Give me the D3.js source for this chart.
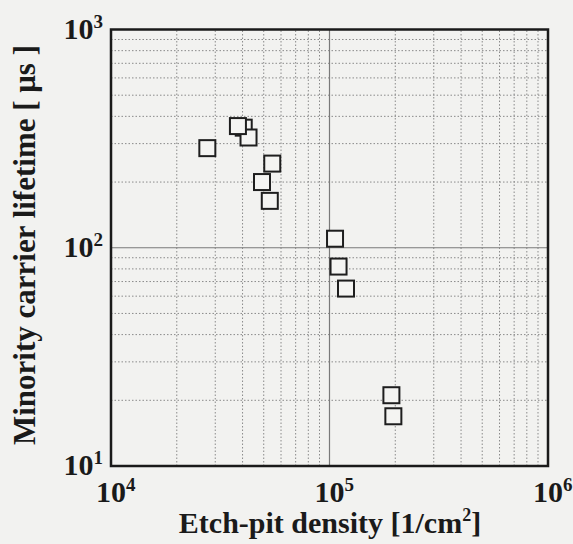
<!DOCTYPE html>
<html>
<head>
<meta charset="utf-8">
<script src="https://cdn.jsdelivr.net/npm/d3@7"></script>
<style>
  body { margin: 0; background: #f2f2f0; }
  text { font-family: "Liberation Serif", "Times New Roman", serif; font-weight: bold; fill: #1a1a1a; }
</style>
</head>
<body>
<div id="chart"></div>
<script>
// etch-pit density [1/cm2] vs minority carrier lifetime [us]
var etchPit  = [27600, 40500, 42600, 38100, 54700, 49100, 53300, 106000, 110000, 119000, 192000, 196000];
var lifetime = [286,   355,   320,   361,   243,   200,   164,   110,    82,     65,     21.1,   16.9];

var xDecades = [1e4, 1e5, 1e6];
var yDecades = [1e1, 1e2, 1e3];

var width = 573, height = 544;
var margin = { top: 29.5, right: 25, bottom: 78, left: 111 };

var svg = d3.select("#chart").append("svg")
  .attr("width", width)
  .attr("height", height);

svg.append("rect")
  .attr("width", width)
  .attr("height", height)
  .attr("fill", "#f2f2f0");

var x = d3.scaleLog()
  .domain([xDecades[0], xDecades[xDecades.length - 1]])
  .range([margin.left, width - margin.right]);

var y = d3.scaleLog()
  .domain([yDecades[0], yDecades[yDecades.length - 1]])
  .range([height - margin.bottom, margin.top]);

// minor ticks 2..9 in every decade
function minorTicks(decades) {
  var out = [];
  for (var i = 0; i < decades.length - 1; i++) {
    for (var k = 2; k <= 9; k++) out.push(decades[i] * k);
  }
  return out;
}

var grid = svg.append("g");

grid.selectAll(".vminor")
  .data(minorTicks(xDecades))
  .enter().append("line")
  .attr("x1", function(d) { return x(d); })
  .attr("x2", function(d) { return x(d); })
  .attr("y1", y.range()[0])
  .attr("y2", y.range()[1])
  .attr("stroke", "#8a8a8a")
  .attr("stroke-width", 1)
  .attr("stroke-dasharray", "1.5,2");

grid.selectAll(".hminor")
  .data(minorTicks(yDecades))
  .enter().append("line")
  .attr("y1", function(d) { return y(d); })
  .attr("y2", function(d) { return y(d); })
  .attr("x1", x.range()[0])
  .attr("x2", x.range()[1])
  .attr("stroke", "#8a8a8a")
  .attr("stroke-width", 1)
  .attr("stroke-dasharray", "1.5,2");

// solid lines at inner decades
grid.selectAll(".vmajor")
  .data(xDecades.slice(1, -1))
  .enter().append("line")
  .attr("x1", function(d) { return x(d); })
  .attr("x2", function(d) { return x(d); })
  .attr("y1", y.range()[0])
  .attr("y2", y.range()[1])
  .attr("stroke", "#7a7a7a")
  .attr("stroke-width", 1.2);

grid.selectAll(".hmajor")
  .data(yDecades.slice(1, -1))
  .enter().append("line")
  .attr("y1", function(d) { return y(d); })
  .attr("y2", function(d) { return y(d); })
  .attr("x1", x.range()[0])
  .attr("x2", x.range()[1])
  .attr("stroke", "#7a7a7a")
  .attr("stroke-width", 1.2);

// data squares
var size = 16;
svg.append("g").selectAll("rect")
  .data(etchPit)
  .enter().append("rect")
  .attr("x", function(d) { return x(d) - size / 2; })
  .attr("y", function(d, i) { return y(lifetime[i]) - size / 2; })
  .attr("width", size)
  .attr("height", size)
  .attr("fill", "#f4f4f2")
  .attr("stroke", "#1e1e1e")
  .attr("stroke-width", 2);

// frame
svg.append("rect")
  .attr("x", x.range()[0])
  .attr("y", y.range()[1])
  .attr("width", x.range()[1] - x.range()[0])
  .attr("height", y.range()[0] - y.range()[1])
  .attr("fill", "none")
  .attr("stroke", "#1a1a1a")
  .attr("stroke-width", 2.5);

function power(sel, d) {
  sel.append("tspan").text("10");
  sel.append("tspan")
    .attr("font-size", 19)
    .attr("dy", -11)
    .text(Math.round(Math.log10(d)));
}

// tick labels
svg.append("g").selectAll("text")
  .data(xDecades)
  .enter().append("text")
  .attr("x", function(d) { return x(d) - 15; })
  .attr("y", y.range()[0] + 36)
  .attr("font-size", 30)
  .each(function(d) { power(d3.select(this), d); });

svg.append("g").selectAll("text")
  .data(yDecades)
  .enter().append("text")
  .attr("x", 103)
  .attr("y", function(d) { return y(d) + 9; })
  .attr("text-anchor", "end")
  .attr("font-size", 30)
  .each(function(d) { power(d3.select(this), d); });

// axis titles
var xt = svg.append("text")
  .attr("x", 330)
  .attr("y", 533)
  .attr("text-anchor", "middle")
  .attr("font-size", 30);
xt.append("tspan").text("Etch-pit density [1/cm");
xt.append("tspan").attr("font-size", 18).attr("dy", -12).text("2");
xt.append("tspan").attr("dy", 12).text("]");

svg.append("text")
  .attr("transform", "translate(35,245) rotate(-90)")
  .attr("text-anchor", "middle")
  .attr("font-size", 31)
  .text("Minority carrier lifetime [ \u03bcs ]");
</script>
</body>
</html>
